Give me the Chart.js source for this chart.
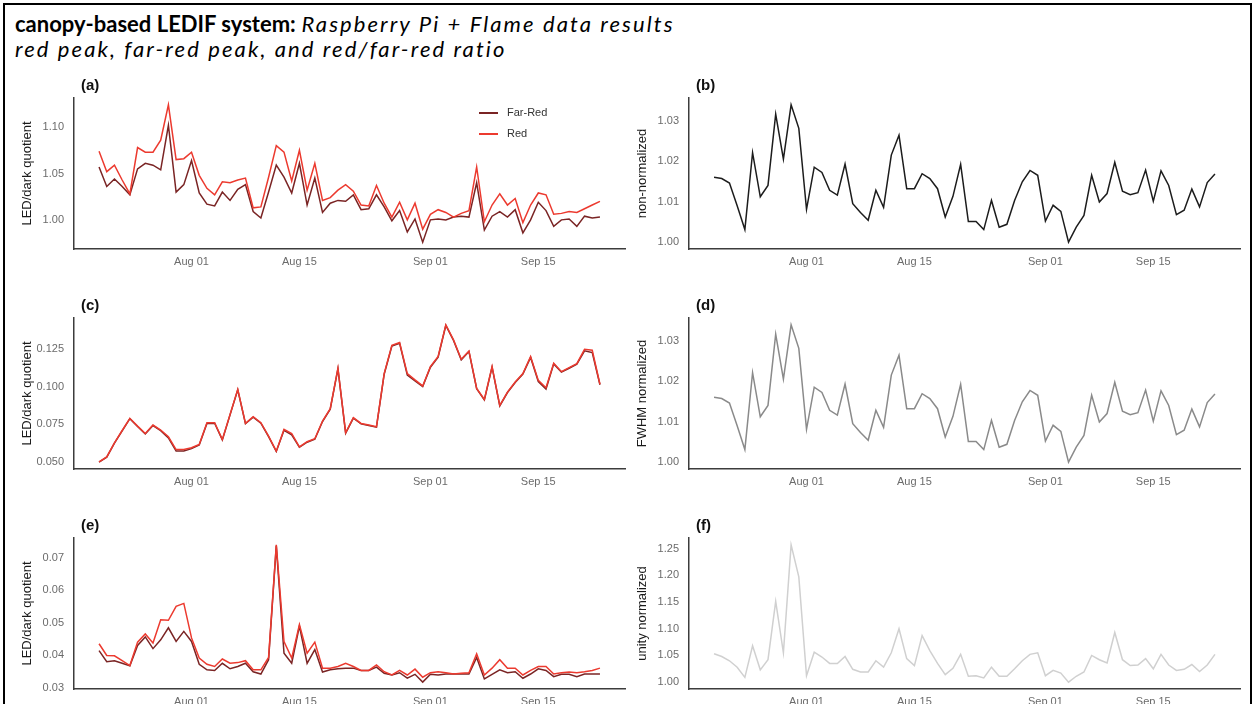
<!DOCTYPE html>
<html>
<head>
<meta charset="utf-8">
<script src="https://cdn.jsdelivr.net/npm/chart.js@4.4.1/dist/chart.umd.min.js"></script>
<style>
    html, body { margin: 0; padding: 0; background: #fff; overflow: hidden; }
    body { width: 1253px; height: 704px; position: relative; }
    #frame { position: absolute; left: 3px; top: 3px; width: 1245px; height: 720px; border: 2px solid #000; }
    .heading { position: absolute; left: 15px; font-family: Lato, 'Open Sans', sans-serif; font-size: 22px; line-height: 25px; color: #000; white-space: nowrap; }
    .heading i { letter-spacing: 2.1px; }
    .panel { position: absolute; width: 630px; height: 200px; }
</style>
</head>
<body>
<div id="frame"></div>
<div class="heading" style="top: 11px;"><b>canopy-based LEDIF system:</b> <i>Raspberry Pi + Flame data results</i></div>
<div class="heading" style="top: 36px;"><i>red peak, far-red peak, and red/far-red ratio</i></div>

<div class="panel" style="left: 0px; top: 75px;"><canvas id="chartA" width="630" height="200"></canvas></div>
<div class="panel" style="left: 615px; top: 75px;"><canvas id="chartB" width="630" height="200"></canvas></div>
<div class="panel" style="left: 0px; top: 295px;"><canvas id="chartC" width="630" height="200"></canvas></div>
<div class="panel" style="left: 615px; top: 295px;"><canvas id="chartD" width="630" height="200"></canvas></div>
<div class="panel" style="left: 0px; top: 515px;"><canvas id="chartE" width="630" height="200"></canvas></div>
<div class="panel" style="left: 615px; top: 515px;"><canvas id="chartF" width="630" height="200"></canvas></div>

<script>
// daily readings, day 0 = Jul 20 ... day 65 = Sep 23
const xTickDays = [12, 26, 43, 57];
const xTickLabels = ['Aug 01', 'Aug 15', 'Sep 01', 'Sep 15'];

// (a) red peak / far-red peak, LED/dark quotient
const redPeak = [1.074, 1.052, 1.059, 1.043, 1.028, 1.078, 1.073, 1.073, 1.086, 1.124,
    1.065, 1.066, 1.073, 1.048, 1.034, 1.027, 1.041, 1.040, 1.043, 1.045,
    1.013, 1.014, 1.046, 1.080, 1.073, 1.042, 1.075, 1.032, 1.061, 1.021,
    1.024, 1.032, 1.038, 1.031, 1.016, 1.015, 1.037, 1.018, 1.003, 1.019,
    1.000, 1.018, 0.990, 1.006, 1.011, 1.008, 1.003, 1.007, 1.010, 1.057,
    0.998, 1.016, 1.028, 1.016, 1.023, 0.997, 1.016, 1.029, 1.027, 1.006,
    1.007, 1.009, 1.008, 1.012, 1.016, 1.020];
const farRedPeak = [1.057, 1.036, 1.044, 1.036, 1.027, 1.055, 1.061, 1.059, 1.054, 1.102,
    1.030, 1.038, 1.064, 1.029, 1.017, 1.015, 1.030, 1.021, 1.033, 1.038,
    1.009, 1.002, 1.030, 1.059, 1.046, 1.029, 1.061, 1.016, 1.045, 1.008,
    1.018, 1.021, 1.020, 1.027, 1.011, 1.012, 1.027, 1.014, 0.999, 1.010,
    0.987, 1.001, 0.976, 1.000, 1.001, 1.000, 1.003, 1.004, 1.003, 1.040,
    0.989, 1.004, 1.009, 1.003, 1.011, 0.986, 1.000, 1.019, 1.010, 0.993,
    1.000, 1.001, 0.993, 1.004, 1.002, 1.003];

// (b) red/far-red ratio, non-normalized
const ratioRaw = [1.0160, 1.0157, 1.0146, 1.0090, 1.0031, 1.0221, 1.0112, 1.0140, 1.0316, 1.0205,
    1.0339, 1.0281, 1.0081, 1.0185, 1.0172, 1.0128, 1.0116, 1.0193, 1.0095, 1.0073,
    1.0054, 1.0128, 1.0086, 1.0215, 1.0264, 1.0132, 1.0132, 1.0169, 1.0157, 1.0132,
    1.0062, 1.0113, 1.0192, 1.0051, 1.0051, 1.0031, 1.0103, 1.0037, 1.0044, 1.0103,
    1.0149, 1.0177, 1.0165, 1.0052, 1.0091, 1.0076, 1.0000, 1.0037, 1.0066, 1.0165,
    1.0099, 1.0120, 1.0197, 1.0126, 1.0117, 1.0122, 1.0178, 1.0101, 1.0176, 1.0140,
    1.0068, 1.0079, 1.0131, 1.0087, 1.0147, 1.0168];

// (c) FWHM of red / far-red peak
const redFwhm = [0.0500, 0.0533, 0.0627, 0.0709, 0.0790, 0.0738, 0.0689, 0.0745, 0.0712, 0.0667,
    0.0582, 0.0582, 0.0594, 0.0616, 0.0761, 0.0761, 0.0649, 0.0816, 0.0983, 0.0756,
    0.0801, 0.0761, 0.0671, 0.0571, 0.0716, 0.0689, 0.0600, 0.0634, 0.0654, 0.0772,
    0.0854, 0.1124, 0.0694, 0.0794, 0.0756, 0.0745, 0.0734, 0.1088, 0.1277, 0.1295,
    0.1088, 0.1046, 0.1006, 0.1135, 0.1202, 0.1413, 0.1313, 0.1184, 0.1239, 0.0990,
    0.0916, 0.1135, 0.0876, 0.0965, 0.1032, 0.1088, 0.1202, 0.1043, 0.0994, 0.1157,
    0.1101, 0.1128, 0.1155, 0.1250, 0.1244, 0.1017];
const farRedFwhm = [0.0498, 0.0531, 0.0625, 0.0707, 0.0788, 0.0735, 0.0686, 0.0742, 0.0708, 0.0660,
    0.0572, 0.0572, 0.0588, 0.0612, 0.0756, 0.0757, 0.0646, 0.0813, 0.0980, 0.0754,
    0.0798, 0.0758, 0.0668, 0.0569, 0.0710, 0.0680, 0.0597, 0.0631, 0.0651, 0.0769,
    0.0851, 0.1120, 0.0691, 0.0791, 0.0753, 0.0742, 0.0731, 0.1084, 0.1272, 0.1290,
    0.1078, 0.1040, 0.1002, 0.1131, 0.1198, 0.1409, 0.1309, 0.1180, 0.1235, 0.0987,
    0.0913, 0.1131, 0.0873, 0.0962, 0.1029, 0.1085, 0.1196, 0.1035, 0.0985, 0.1153,
    0.1098, 0.1124, 0.1151, 0.1240, 0.1228, 0.1014];

// (d) ratio, FWHM normalized (same shape as b)
const ratioFwhm = [1.0160, 1.0157, 1.0146, 1.0090, 1.0031, 1.0221, 1.0112, 1.0140, 1.0316, 1.0205,
    1.0339, 1.0281, 1.0081, 1.0185, 1.0172, 1.0128, 1.0116, 1.0193, 1.0095, 1.0073,
    1.0054, 1.0128, 1.0086, 1.0215, 1.0264, 1.0132, 1.0132, 1.0169, 1.0157, 1.0132,
    1.0062, 1.0113, 1.0192, 1.0051, 1.0051, 1.0031, 1.0103, 1.0037, 1.0044, 1.0103,
    1.0149, 1.0177, 1.0165, 1.0052, 1.0091, 1.0076, 1.0000, 1.0037, 1.0066, 1.0165,
    1.0099, 1.0120, 1.0197, 1.0126, 1.0117, 1.0122, 1.0178, 1.0101, 1.0176, 1.0140,
    1.0068, 1.0079, 1.0131, 1.0087, 1.0147, 1.0168];

// (e) red / far-red peak area
const redArea = [0.0435, 0.0399, 0.0398, 0.0383, 0.0368, 0.0440, 0.0465, 0.0437, 0.0509, 0.0507,
    0.0550, 0.0559, 0.0453, 0.0391, 0.0372, 0.0365, 0.0388, 0.0375, 0.0377, 0.0383,
    0.0355, 0.0355, 0.0393, 0.0739, 0.0442, 0.0391, 0.0494, 0.0406, 0.0440, 0.0360,
    0.0360, 0.0365, 0.0375, 0.0365, 0.0353, 0.0353, 0.0370, 0.0349, 0.0339, 0.0353,
    0.0339, 0.0357, 0.0332, 0.0346, 0.0349, 0.0346, 0.0342, 0.0344, 0.0346, 0.0404,
    0.0339, 0.0360, 0.0386, 0.0360, 0.0360, 0.0339, 0.0353, 0.0365, 0.0365, 0.0342,
    0.0346, 0.0348, 0.0346, 0.0349, 0.0353, 0.0360];
const farRedArea = [0.0414, 0.0380, 0.0383, 0.0375, 0.0367, 0.0430, 0.0456, 0.0420, 0.0447, 0.0484,
    0.0442, 0.0473, 0.0442, 0.0372, 0.0355, 0.0353, 0.0375, 0.0358, 0.0365, 0.0375,
    0.0349, 0.0342, 0.0386, 0.0736, 0.0406, 0.0375, 0.0489, 0.0375, 0.0417, 0.0348,
    0.0355, 0.0358, 0.0360, 0.0360, 0.0353, 0.0353, 0.0363, 0.0344, 0.0339, 0.0346,
    0.0329, 0.0341, 0.0317, 0.0341, 0.0339, 0.0342, 0.0342, 0.0342, 0.0342, 0.0393,
    0.0327, 0.0341, 0.0355, 0.0346, 0.0349, 0.0329, 0.0342, 0.0358, 0.0353, 0.0334,
    0.0341, 0.0341, 0.0334, 0.0342, 0.0342, 0.0342];

// (f) ratio, unity normalized
const ratioUnity = [1.053, 1.048, 1.040, 1.028, 1.009, 1.068, 1.023, 1.042, 1.151, 1.055,
    1.257, 1.197, 1.012, 1.056, 1.047, 1.035, 1.035, 1.048, 1.024, 1.019,
    1.019, 1.040, 1.028, 1.055, 1.100, 1.044, 1.031, 1.087, 1.059, 1.035,
    1.014, 1.026, 1.052, 1.011, 1.012, 1.008, 1.028, 1.011, 1.011, 1.025,
    1.040, 1.052, 1.055, 1.012, 1.022, 1.017, 1.000, 1.011, 1.019, 1.050,
    1.042, 1.036, 1.093, 1.042, 1.031, 1.032, 1.044, 1.025, 1.052, 1.032,
    1.022, 1.024, 1.033, 1.020, 1.032, 1.052];

const yTicksA = [1.00, 1.05, 1.10];
const yTicksB = [1.00, 1.01, 1.02, 1.03];
const yTicksC = [0.050, 0.075, 0.100, 0.125];
const yTicksE = [0.03, 0.04, 0.05, 0.06, 0.07];
const yTicksF = [1.00, 1.05, 1.10, 1.15, 1.20, 1.25];

const FAR_RED = '#7a2424';
const RED = '#ec3a2f';

Chart.defaults.font.family = "'Liberation Sans', Arial, sans-serif";
Chart.defaults.animation = false;

// draws "(a)" etc. just above the plot area
const panelLabel = {
    id: 'panelLabel',
    afterDraw(chart, args, opts) {
        const ctx = chart.ctx;
        ctx.save();
        ctx.font = "bold 15px 'Liberation Sans', Arial, sans-serif";
        ctx.fillStyle = '#111';
        ctx.textBaseline = 'middle';
        ctx.fillText(opts.text, chart.chartArea.left + 7, chart.chartArea.top - 12);
        ctx.restore();
    }
};

// legend sitting inside the plot area of panel (a)
const insideLegend = {
    id: 'insideLegend',
    afterDraw(chart, args, opts) {
        if (!opts.show) return;
        const ctx = chart.ctx;
        ctx.save();
        ctx.font = "11px 'Liberation Sans', Arial, sans-serif";
        ctx.textBaseline = 'middle';
        chart.data.datasets.forEach((ds, i) => {
            const y = opts.y + i * opts.gap;
            ctx.strokeStyle = ds.borderColor;
            ctx.lineWidth = 2;
            ctx.beginPath();
            ctx.moveTo(opts.x, y);
            ctx.lineTo(opts.x + 19, y);
            ctx.stroke();
            ctx.fillStyle = '#333';
            ctx.fillText(ds.label, opts.x + 28, y);
        });
        ctx.restore();
    }
};

function series(label, values, color, order) {
    return {
        label: label,
        data: values.map((v, i) => ({ x: i, y: v })),
        borderColor: color,
        borderWidth: 1.5,
        pointRadius: 0,
        tension: 0,
        fill: false,
        order: order
    };
}

// ggplot-style 5% expansion of the data range
function expand(lists) {
    const all = [].concat(...lists);
    const lo = Math.min(...all), hi = Math.max(...all);
    const pad = (hi - lo) * 0.05;
    return { min: lo - pad, max: hi + pad };
}

function makePanel(canvasId, datasets, yTitle, yTicks, decimals, label, legend) {
    const yr = expand(datasets.map(d => d.data.map(p => p.y)));
    const nDays = datasets[0].data.length;
    const xPad = (nDays - 1) * 0.05;
    return new Chart(document.getElementById(canvasId), {
        type: 'line',
        data: { datasets: datasets },
        options: {
            responsive: false,
            layout: { padding: { top: 23, right: 5, bottom: 0, left: 0 } },
            plugins: {
                legend: { display: false },
                tooltip: { enabled: false },
                panelLabel: { text: label },
                insideLegend: legend || { show: false }
            },
            scales: {
                x: {
                    type: 'linear',
                    min: -xPad,
                    max: nDays - 1 + xPad,
                    grid: { display: false, drawTicks: false },
                    border: { display: true, color: '#3c3c3c', width: 1.5 },
                    afterBuildTicks: s => { s.ticks = xTickDays.map(v => ({ value: v })); },
                    afterFit: s => { s.height = 26; },
                    ticks: {
                        padding: 6,
                        color: '#6b6b6b',
                        font: { size: 11 },
                        maxRotation: 0,
                        callback: v => xTickLabels[xTickDays.indexOf(v)]
                    }
                },
                y: {
                    min: yr.min,
                    max: yr.max,
                    grid: { display: false, drawTicks: false },
                    border: { display: true, color: '#3c3c3c', width: 1.5 },
                    afterBuildTicks: s => { s.ticks = yTicks.map(v => ({ value: v })); },
                    afterFit: s => { s.width = 74; },
                    ticks: {
                        padding: 10,
                        color: '#6b6b6b',
                        font: { size: 11 },
                        callback: v => v.toFixed(decimals)
                    },
                    title: {
                        display: true,
                        text: yTitle,
                        color: '#1a1a1a',
                        font: { size: 13 },
                        padding: { top: 20, bottom: 0 }
                    }
                }
            }
        },
        plugins: [panelLabel, insideLegend]
    });
}

makePanel('chartA',
    [series('Far-Red', farRedPeak, FAR_RED, 1), series('Red', redPeak, RED, 0)],
    'LED/dark quotient', yTicksA, 2, '(a)', { show: true, x: 479, y: 38, gap: 21 });
makePanel('chartB', [series('ratio', ratioRaw, '#1c1c1c', 0)],
    'non-normalized', yTicksB, 2, '(b)');
makePanel('chartC',
    [series('Far-Red', farRedFwhm, FAR_RED, 1), series('Red', redFwhm, RED, 0)],
    'LED/dark quotient', yTicksC, 3, '(c)');
makePanel('chartD', [series('ratio', ratioFwhm, '#8a8a8a', 0)],
    'FWHM normalized', yTicksB, 2, '(d)');
makePanel('chartE',
    [series('Far-Red', farRedArea, FAR_RED, 1), series('Red', redArea, RED, 0)],
    'LED/dark quotient', yTicksE, 2, '(e)');
makePanel('chartF', [series('ratio', ratioUnity, '#d0d0d0', 0)],
    'unity normalized', yTicksF, 2, '(f)');
</script>
</body>
</html>
